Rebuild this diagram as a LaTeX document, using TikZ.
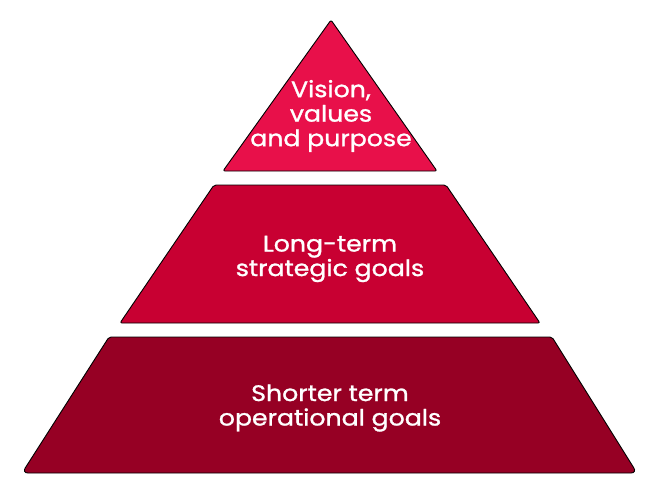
\documentclass[tikz,border=0pt]{standalone}
\usepackage{fontspec}
\setmainfont{Poppins}[FakeStretch=1.12, FakeBold=1.2]
\usetikzlibrary{positioning}

\definecolor{topred}{RGB}{232,16,74}
\definecolor{midred}{RGB}{200,0,50}
\definecolor{lowred}{RGB}{150,0,36}

\begin{document}
\begin{tikzpicture}[x=1pt,y=-1pt,
    tier/.style={draw=black, line width=0.9pt, line join=round, rounded corners=2pt},
    tiertext/.style={text=white, align=center, font=\fontsize{22.5}{24.5}\selectfont}]
    \useasboundingbox (0,0) rectangle (660,500);

    % Top triangle
    \draw[tier, fill=topred] (331,20) -- (437,171) -- (223,171) -- cycle;
    \node[tiertext] (vision) at (331,116) {Vision,\\values\\and purpose};

    % Middle band
    \draw[tier, fill=midred] (214,185) -- (446,185) -- (540,323) -- (120,323) -- cycle;
    \node[tiertext] (longterm) at (330,259) {Long-term\\strategic goals};

    % Bottom band
    \draw[tier, fill=lowred] (109,337) -- (552,337) [rounded corners=6pt] -- (637,473) -- (22,473) [rounded corners=2pt] -- cycle;
    \node[tiertext] (shortterm) at (330,408) {Shorter term\\operational goals};
\end{tikzpicture}
\end{document}
